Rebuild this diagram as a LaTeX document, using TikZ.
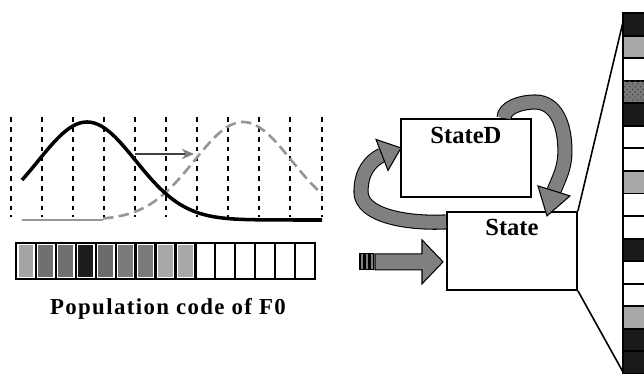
\documentclass[tikz,border=0pt]{standalone}
\usepackage{fontspec}
\setmainfont{Liberation Serif}
\usetikzlibrary{positioning, calc, arrows.meta, patterns}
\definecolor{arrowgray}{RGB}{128,128,128}
\definecolor{curvegray}{RGB}{150,150,150}
\definecolor{cellblack}{RGB}{26,26,26}
\definecolor{cellgray}{RGB}{168,168,168}
\definecolor{celldot}{RGB}{120,120,120}
\definecolor{barA}{RGB}{165,165,165}
\definecolor{barB}{RGB}{112,112,112}
\definecolor{barK}{RGB}{28,28,28}
\definecolor{barC}{RGB}{107,107,107}
\definecolor{barD}{RGB}{122,122,122}
\definecolor{barE}{RGB}{168,168,168}

\begin{document}
\begin{tikzpicture}[
        x=0.02cm, y=-0.02cm,
        statebox/.style={rectangle, draw=black, fill=white, line width=1.1pt,
                         minimum width=2.6cm, minimum height=1.56cm,
                         anchor=north west, inner sep=0pt},
        boxtitle/.style={font=\fontsize{14}{16}\selectfont\bfseries, inner sep=0pt},
        gridline/.style={line width=1.1pt, dash pattern=on 2.8pt off 2.8pt},
        bandout/.style={line width=8.6pt, black},
        bandin/.style={line width=7.4pt, arrowgray},
        headshape/.style={fill=arrowgray, draw=black, line width=0.6pt, line join=miter},
        barcell/.style={draw=black, line width=1.3pt, fill=white},
    ]
    \useasboundingbox (0,0) rectangle (644,374);

    % ---- Left: tuning curves over the F0 grid ----
    \foreach \gx in {11,42,73,104,135,166,197,228,259,290,322} {
        \draw[gridline] (\gx,117) -- (\gx,217);
    }
    \draw[curvegray, line width=0.9pt] (22,220) -- (103,220);
    \draw[curvegray, line width=1.5pt, dash pattern=on 6pt off 3pt]
        plot[domain=103:322, samples=100] (\x, {220-98*exp(0-((\x-243)/68.7)^2)});
    \draw[black, line width=2pt, line join=round]
        plot[domain=22:322, samples=120] (\x, {220-98*exp(0-((\x-87)/68.7)^2)});
    \draw[black!75, line width=0.7pt, -{Stealth[length=7pt, width=6pt, color=arrowgray]}]
        (135,154) -- (194,154);

    % ---- Population code bar ----
    \foreach \shade [count=\i from 0] in {barA,barB,barB,barK,barC,barD,barD,barE,barE,
                                           white,white,white,white,white,white} {
        \pgfmathsetmacro{\xl}{16+\i*19.93}
        \pgfmathsetmacro{\xr}{16+(\i+1)*19.93}
        \draw[barcell] (\xl,243) rectangle (\xr,279);
        \fill[\shade] (\xl+2.5,245.5) rectangle (\xr-2.5,276.5);
    }
    \node[font=\fontsize{13}{15}\selectfont\bfseries\addfontfeatures{LetterSpace=6},
          anchor=base] (f0label) at (168,314) {Population code of F0};

    % ---- Middle: the two state boxes ----
    \node[statebox] (stated) at (400,118) {};
    \node[boxtitle, anchor=north, below=0.17cm of stated.north] (statedtitle) {StateD};
    \node[statebox] (state) at ($(stated.south west)+(46,13)$) {};
    \node[boxtitle, anchor=north, below=0.15cm of state.north] (statetitle) {State};

    % ---- Recurrent arrow: StateD -> State ----
    \coordinate (ds) at ($(stated.north west)+(104,0)$);
    \coordinate (dtop) at ($(stated.north west)+(135,-16)$);
    \coordinate (dright) at ($(state.north east)+(-13,-60)$);
    \coordinate (dbase) at ($(state.north)+(42,-20)$);
    \coordinate (dtip) at ($(state.north)+(35,5)$);
    \foreach \band in {bandout, bandin} {
        \draw[\band] (ds) .. controls +(0,-10) and +(-15,0) .. (dtop)
            .. controls +(20,0) and +(0,-28) .. (dright)
            .. controls +(0,18) and +(5,-13) .. (dbase);
    }
    \filldraw[headshape] ($(dbase)+(-16,-5)$) -- (dtip) -- ($(dbase)+(16,5)$) -- cycle;

    % ---- Recurrent arrow: State -> StateD ----
    \coordinate (ss) at ($(state.north west)+(0,11)$);
    \coordinate (sleft) at ($(stated.west)+(-39,34)$);
    \coordinate (sbase) at ($(stated.west)+(-18,-3)$);
    \coordinate (stip) at ($(stated.west)+(1,-10)$);
    \foreach \band in {bandout, bandin} {
        \draw[\band] (ss) .. controls +(-38,2) and +(0,24) .. (sleft)
            .. controls +(0,-20) and +(-12,6) .. (sbase);
    }
    \filldraw[headshape] ($(sbase)+(-6,-15.5)$) -- (stip) -- ($(sbase)+(6,15.5)$) -- cycle;

    % ---- Input arrow into State ----
    \coordinate (intip) at ($(state.west)+(-3,11)$);
    \filldraw[headshape] ($(intip)+(-68,-8)$) -- ($(intip)+(-21,-8)$) -- ($(intip)+(-21,-22)$)
        -- (intip) -- ($(intip)+(-21,22)$) -- ($(intip)+(-21,8)$) -- ($(intip)+(-68,8)$) -- cycle;
    \foreach \bx in {-83,-78,-73} {
        \filldraw[headshape] ($(intip)+(\bx,-8)$) rectangle ($(intip)+(\bx+3.5,8)$);
    }

    % ---- Right: expanded state vector ----
    \foreach \shade [count=\i from 0] in {cellblack,cellgray,white,celldot,cellblack,white,white,cellgray,
                                           white,white,cellblack,white,white,cellgray,cellblack,cellblack} {
        \pgfmathsetmacro{\yt}{13+\i*22.56}
        \pgfmathsetmacro{\yb}{13+(\i+1)*22.56}
        \filldraw[fill=\shade, draw=black, line width=1.1pt] (623,\yt) rectangle (670,\yb);
    }
    \fill[pattern=crosshatch dots, pattern color=black!70] (624,81) rectangle (670,102);
    \coordinate (coltop) at (623,22);
    \coordinate (colbot) at (623,372);
    \draw[line width=0.9pt] (state.north east) -- (coltop);
    \draw[line width=0.9pt] (state.south east) -- (colbot);

\end{tikzpicture}
\end{document}
